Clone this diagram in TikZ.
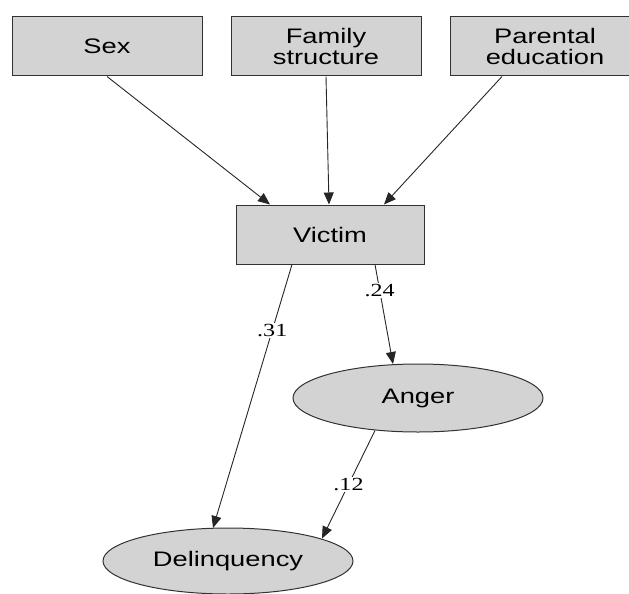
\documentclass[tikz,border=0pt]{standalone}
\usepackage{fontspec}
\usetikzlibrary{arrows.meta,shapes.geometric,calc}
\newfontfamily\boxfont[FakeStretch=1.3]{Liberation Sans}
\newfontfamily\labfont[FakeStretch=1.3]{Liberation Serif}
\definecolor{boxgray}{RGB}{211,211,211}
\definecolor{edgegray}{RGB}{50,50,50}
\begin{document}
\begin{tikzpicture}[x=1pt,y=-1pt,
  rbox/.style={draw=edgegray,line width=1pt,fill=boxgray,minimum width=190pt,minimum height=59pt,inner sep=0pt,align=center,font=\boxfont\fontsize{21}{21}\selectfont},
  oval/.style={ellipse,draw=edgegray,line width=1pt,fill=boxgray,minimum width=250pt,minimum height=68pt,inner sep=0pt,font=\boxfont\fontsize{21}{21}\selectfont},
  arr/.style={draw=black!85,line width=0.9pt,-{Triangle[length=12pt,width=10pt]}},
  coef/.style={fill=white,inner sep=1pt,font=\labfont\fontsize{18.5}{18.5}\selectfont}]
\useasboundingbox (0,0) rectangle (629,594);
\node[rbox] (sex) at (107,46.5) {Sex};
\node[rbox] (fam) at (326,46.5) {Family\\structure};
\node[rbox] (par) at (545,46.5) {Parental\\education};
\node[rbox,minimum width=188pt] (victim) at (330,234.5) {Victim};
\node[oval] (anger) at (418,398) {Anger};
\node[oval,minimum height=66pt] (delinq) at (228,561) {Delinquency};
\draw[arr] (sex.south) -- ($(victim.north)+(-60,0)$);
\draw[arr] (fam.south) -- ($(victim.north)+(-1,0)$);
\draw[arr] ($(par.south)+(-43,0)$) -- ($(victim.north)+(54,0)$);
\draw[arr] ($(victim.south)+(-38,0)$) -- node[coef,pos=0.25] {.31} ($(delinq.north)+(-15,0.5)$);
\draw[arr] ($(victim.south)+(45,0)$) -- node[coef,pos=0.26] {.24} ($(anger.north)+(-25,0.5)$);
\draw[arr] ($(anger.south)+(-43,-2)$) -- node[coef,pos=0.5] {.12} ($(delinq.north)+(94,11)$);
\end{tikzpicture}
\end{document}
